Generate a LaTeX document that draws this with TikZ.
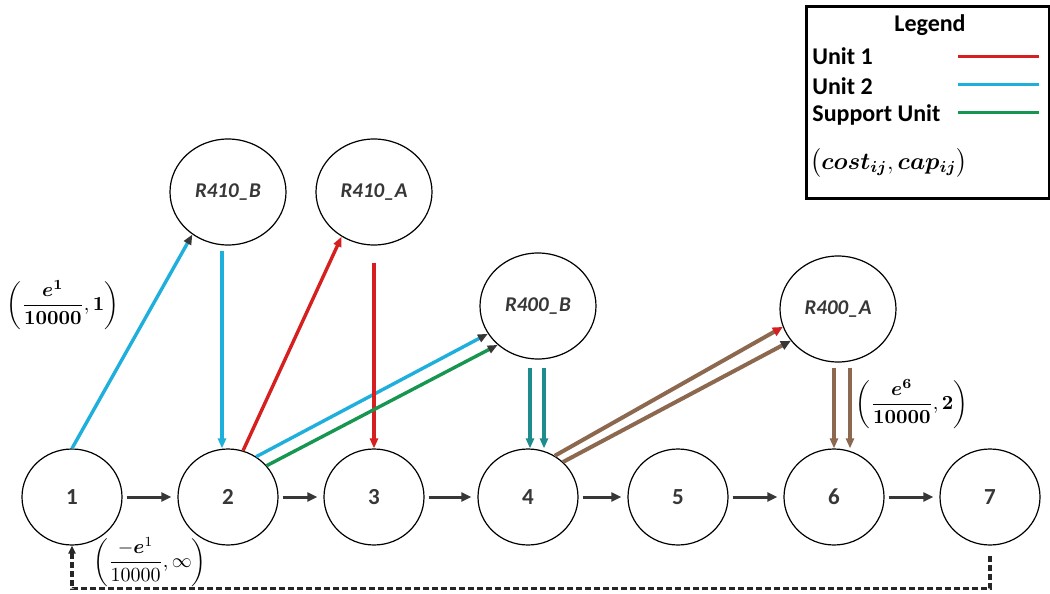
\documentclass[tikz,border=0pt]{standalone}
\usepackage{amsmath,bm}
\usepackage{fontspec}
\newfontfamily\carlito{Carlito}
\usetikzlibrary{arrows.meta,shapes.geometric}
\definecolor{cyanu}{RGB}{30,175,220}
\definecolor{redu}{RGB}{214,32,32}
\definecolor{greenu}{RGB}{22,150,80}
\definecolor{tealu}{RGB}{30,140,140}
\definecolor{brownu}{RGB}{140,105,78}
\definecolor{darku}{RGB}{55,55,55}
\newcommand{\fraclabA}{$\left(\dfrac{\bm{e}^{\bm{1}}}{\bm{10000}},\bm{1}\right)$}
\newcommand{\fraclabB}{$\left(\dfrac{\bm{e}^{\bm{6}}}{\bm{10000}},\bm{2}\right)$}
\newcommand{\fraclabC}{$\left(\dfrac{-\bm{e}^{1}}{10000},\infty\right)$}
\newcommand{\costlab}{$\bigl(\bm{cost_{ij}},\bm{cap_{ij}}\bigr)$}
\begin{document}
\begin{tikzpicture}[x=0.5pt,y=-0.5pt,
  bnode/.style={ellipse,draw=black,line width=0.6pt,minimum width=50pt,minimum height=48pt,inner sep=0pt,
    font=\carlito\bfseries\fontsize{11.5}{13}\selectfont,text=darku},
  tnode/.style={ellipse,draw=black,line width=0.6pt,minimum width=58pt,minimum height=53pt,inner sep=0pt,
    font=\carlito\bfseries\itshape\fontsize{10.5}{12}\selectfont,text=darku},
  harr/.style={draw=darku,-{Triangle[length=5pt,width=4.5pt]},shorten <=2pt,shorten >=3pt,line width=1.5pt},
  carr/.style={-{Triangle[length=5pt,width=4pt]}},
  cw/.style={line width=1.7pt},
  bw/.style={line width=2pt},
  legtxt/.style={font=\carlito\bfseries\fontsize{12}{14}\selectfont,inner sep=0pt},
  mlab/.style={inner sep=0pt,font=\fontsize{10}{12}\selectfont}
]
\useasboundingbox (0,0) rectangle (1050,594);

% bottom nodes
\node[bnode] (n1) at (72,497) {1};
\node[bnode] (n2) at (228,497) {2};
\node[bnode] (n3) at (374,497) {3};
\node[bnode] (n4) at (528,497) {4};
\node[bnode] (n5) at (678,497) {5};
\node[bnode] (n6) at (834,497) {6};
\node[bnode] (n7) at (990,497) {7};

% top nodes
\node[tnode] (rb) at (228,192) {R410\_B};
\node[tnode] (ra) at (374,192) {R410\_A};
\node[tnode] (r4b) at (538,306) {R400\_B};
\node[tnode] (r4a) at (838,309) {R400\_A};

% horizontal arrows
\draw[harr] (n1.east) -- (n2.west);
\draw[harr] (n2.east) -- (n3.west);
\draw[harr] (n3.east) -- (n4.west);
\draw[harr] (n4.east) -- (n5.west);
\draw[harr] (n5.east) -- (n6.west);
\draw[harr] (n6.east) -- (n7.west);

% unit 2 (cyan)
\draw[cyanu,-{Triangle[length=5pt,width=4pt,color=darku]},cw] (n1.north) -- (rb.230);
\draw[cyanu,carr,shorten <=2.5pt,cw] ([xshift=-3pt]rb.south) -- ([xshift=-3pt]n2.north);
\draw[cyanu,-{Triangle[length=5pt,width=4pt,color=darku]},cw] (n2.55) -- (r4b.209);

% unit 1 (red)
\draw[redu,carr,cw] (n2.72) -- (ra.234);
\draw[redu,carr,shorten <=8.5pt,cw] (ra.south) -- (n3.north);

% support unit (green)
\draw[greenu,-{Triangle[length=5pt,width=4pt,color=darku]},cw] (n2.39) -- (r4b.224);

% R400_B -> 4 (teal)
\draw[tealu,carr,shorten <=4pt,cw] ([xshift=-4pt]r4b.south) -- ([xshift=1pt]n4.north);
\draw[tealu,carr,shorten <=4pt,cw] ([xshift=3pt]r4b.south) -- ([xshift=8pt]n4.north);

% 4 -> R400_A (brown)
\draw[brownu,-{Triangle[length=5pt,width=4.5pt,color=redu]},bw] (n4.57) -- (r4a.198);
\draw[brownu,-{Triangle[length=5pt,width=4.5pt,color=darku]},bw] (n4.45) -- (r4a.214);

% R400_A -> 6 (brown)
\draw[brownu,carr,shorten <=2.5pt,bw] ([xshift=-2pt]r4a.south) -- (n6.north);
\draw[brownu,carr,shorten <=2.5pt,bw] ([xshift=6pt]r4a.south) -- ([xshift=8pt]n6.north);

% dashed return 7 -> 1
\draw[draw=black!85,dash pattern=on 3pt off 1.5pt,-{Triangle[length=4pt,width=3.5pt]},line width=1.6pt]
  ([yshift=-5pt]n7.south) -- ([yshift=-21.5pt]n7.south) -| (n1.south);

% labels
\node[mlab] (l1) at (63,305) {\fraclabA};
\node[mlab] (l2) at (912,404) {\fraclabB};
\node[mlab] (l3) at (150,562) {\fraclabC};

% legend
\node[draw=black,line width=1.5pt,minimum width=121.5pt,minimum height=96pt,anchor=north west,inner sep=0pt] (leg) at (805,5) {};
\node[legtxt] (lgt) at (930,25) {Legend};
\node[legtxt,anchor=west] (lu1) at (812,56) {Unit 1};
\node[legtxt,anchor=west] (lu2) at (812,86) {Unit 2};
\node[legtxt,anchor=west] (lsu) at (812,115) {Support Unit};
\draw[redu,line width=1.5pt] (958,56) -- (1039,56);
\draw[cyanu,line width=1.5pt] (958,84) -- (1039,84);
\draw[greenu,line width=1.5pt] (958,112) -- (1039,112);
\node[anchor=west,inner sep=0pt,font=\fontsize{12}{14}\selectfont] (lce) at (810,163) {\costlab};
\end{tikzpicture}
\end{document}
